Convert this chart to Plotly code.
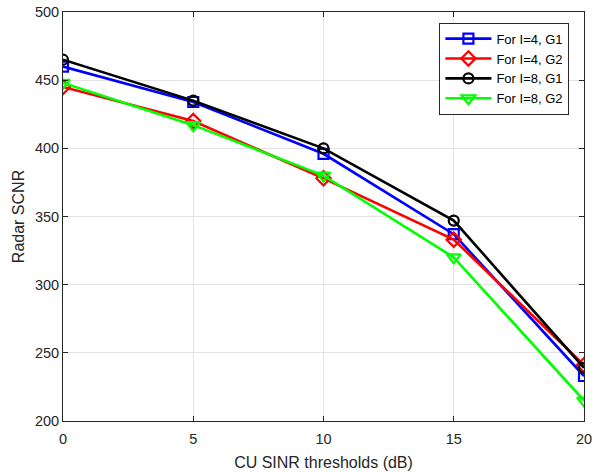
import plotly.graph_objects as go

x_vals = [0, 5, 10, 15, 20]
names = ["For I=4, G1", "For I=4, G2", "For I=8, G1", "For I=8, G2"]
i4_g1 = [460, 434, 396, 337, 233]
i4_g2 = [445, 420, 378, 333, 241]
i8_g1 = [465, 435, 400, 347, 239]
i8_g2 = [448, 417, 380, 320, 215]
x_ticks = [0, 5, 10, 15, 20]
y_ticks = [200, 250, 300, 350, 400, 450, 500]

series = [i4_g1, i4_g2, i8_g1, i8_g2]
colors = ["#0000ff", "#ff0000", "#000000", "#00ff00"]
symbols = ["square-open", "diamond-open", "circle-open", "triangle-down-open"]
sizes = [10, 11, 10, 12]

fig = go.Figure()
for nm, ys, c, s, sz in zip(names, series, colors, symbols, sizes):
    fig.add_trace(go.Scatter(
        x=x_vals, y=ys, name=nm, mode="lines+markers",
        line=dict(color=c, width=2.6),
        marker=dict(symbol=s, size=sz, color=c, line=dict(color=c, width=2.2)),
    ))

FONT = "Liberation Sans, Arial, Helvetica"
axis_common = dict(
    showgrid=True, gridcolor="#e3e3e3", gridwidth=1,
    showline=True, linecolor="#262626", linewidth=1, mirror="ticks",
    ticks="inside", ticklen=5, tickcolor="#262626",
    tickfont=dict(family=FONT, size=14.5, color="#262626"),
    zeroline=False, automargin=False,
)

fig.update_layout(
    width=594, height=472,
    margin=dict(l=63, r=10, t=12, b=51, autoexpand=False),
    paper_bgcolor="white", plot_bgcolor="white",
    font=dict(family=FONT, color="#262626"),
    xaxis=dict(range=[0, 20], tickvals=x_ticks, ticklabelstandoff=5,
               title=dict(text="CU SINR thresholds (dB)", font=dict(size=16, color="#262626"), standoff=10),
               **axis_common),
    yaxis=dict(range=[200, 500], tickvals=y_ticks,
               title=dict(text="Radar SCNR", font=dict(size=16, color="#262626"), standoff=6),
               **axis_common),
    legend=dict(
        x=0.972, y=0.974, xanchor="right", yanchor="top",
        bgcolor="white", bordercolor="#262626", borderwidth=1,
        font=dict(family=FONT, size=13, color="#000000"),
        tracegroupgap=0, itemwidth=46,
    ),
    showlegend=True,
)

fig.write_html(
    "out.html",
    config={"displayModeBar": False},
    post_script="document.body.style.margin='0';document.body.style.padding='0';",
)
